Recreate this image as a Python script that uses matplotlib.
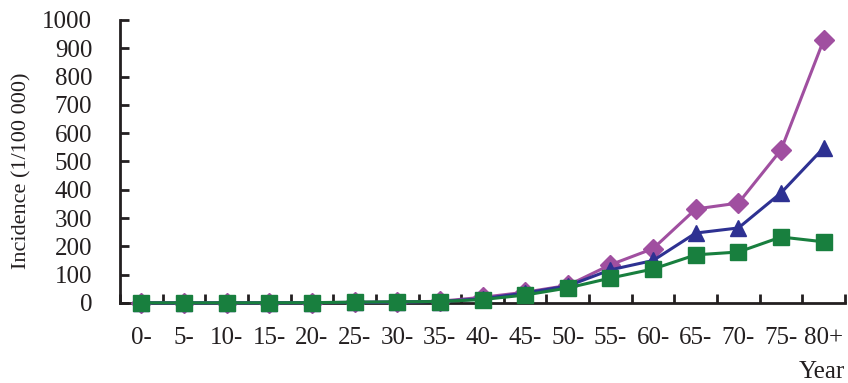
import numpy as np
import matplotlib
matplotlib.use("Agg")
import matplotlib.pyplot as plt

# age groups and incidence values (per 100 000)
ages = ["0-", "5-", "10-", "15-", "20-", "25-", "30-", "35-", "40-",
        "45-", "50-", "55-", "60-", "65-", "70-", "75-", "80+"]
purple_vals = [0.5, 0.3, 0.3, 0.5, 1, 2, 3, 6, 20, 38, 62, 135, 192, 332, 353, 541, 929]
blue_vals = [0.3, 0.2, 0.3, 0.5, 1, 2, 3, 5, 15, 35, 60, 117, 150, 247, 265, 389, 548]
green_vals = [0.5, 0.5, 0.5, 0.7, 1, 3, 4, 5, 12, 28, 53, 88, 120, 170, 180, 233, 216]
y_ticks = [0, 100, 200, 300, 400, 500, 600, 700, 800, 900, 1000]


def main():
    plt.rcParams['font.family'] = ['Liberation Serif', 'DejaVu Serif']
    fig = plt.figure(figsize=(8.48, 3.83), dpi=100)
    ax = fig.add_axes([0.1415, 0.209, 0.855, 0.739])

    x = np.arange(len(ages))
    ax.plot(x, purple_vals, color="#A04FA0", marker="D", ms=10.5, lw=2.2, zorder=3)
    ax.plot(x, blue_vals, color="#2E3192", marker="^", ms=12, lw=2.2, zorder=4)
    ax.plot(x, green_vals, color="#187F3E", marker="s", ms=11, lw=2.2, zorder=5)

    ax.set_xlim(-0.5, len(ages) - 0.5)
    ax.set_ylim(0, 1000)
    ax.set_yticks(y_ticks)
    ax.set_yticklabels([str(v) for v in y_ticks], fontsize=18, color="#231F20")
    ax.set_xticks(x)
    ax.set_xticklabels(ages, fontsize=18, color="#231F20")
    ax.set_xticks(np.arange(len(ages) + 1) - 0.5, minor=True)

    ax.tick_params(axis='y', direction='in', length=6.5, width=2, pad=20, color="#231F20")
    ax.tick_params(axis='x', which='major', length=0, pad=17)
    ax.tick_params(axis='x', which='minor', direction='in', length=6.5, width=2, color="#231F20")

    for side in ['top', 'right']:
        ax.spines[side].set_visible(False)
    for side in ['left', 'bottom']:
        ax.spines[side].set_linewidth(2)
        ax.spines[side].set_color("#231F20")
    ax.spines['left'].set_zorder(6)
    for line in ax.lines:
        line.set_clip_on(False)

    ax.set_ylabel("Incidence (1/100 000)", fontsize=16, color="#231F20")
    ax.yaxis.set_label_coords(-0.122, 0.466)
    fig.text(0.997, 0.03, "Year", fontsize=18, ha='right', va='center', color="#231F20")

    fig.savefig("out.png", dpi=100)


if __name__ == "__main__":
    main()
